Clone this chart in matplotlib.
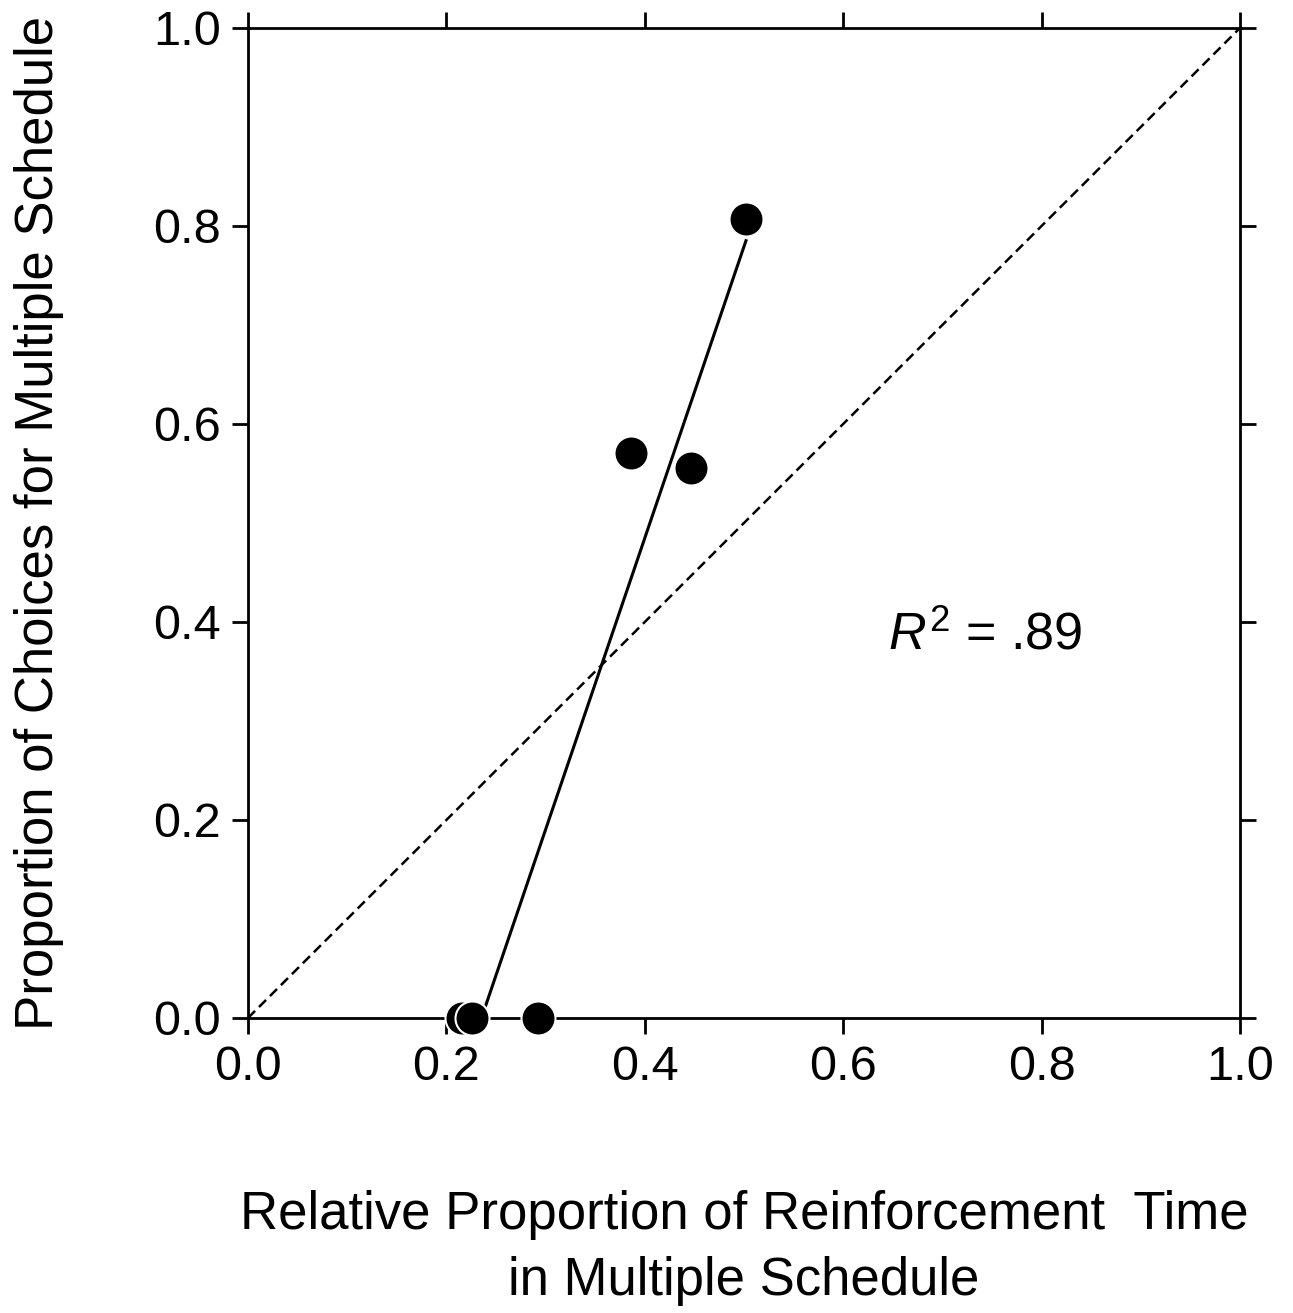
import numpy as np
from matplotlib import pyplot as plt

plt.rcParams['font.family'] = ['Liberation Sans', 'DejaVu Sans']
plt.rcParams['mathtext.fontset'] = 'custom'
plt.rcParams['mathtext.rm'] = 'Liberation Sans'
plt.rcParams['mathtext.it'] = 'Liberation Sans:italic'

# data
rel_time = [0.216, 0.226, 0.292, 0.386, 0.447, 0.502]
prop_choice = [0.0, 0.0, 0.0, 0.571, 0.556, 0.807]
ticks = [0.0, 0.2, 0.4, 0.6, 0.8, 1.0]
tick_labels = ["0.0", "0.2", "0.4", "0.6", "0.8", "1.0"]
r2_text = "$R^2$ = .89"

fig = plt.figure(figsize=(12.93, 13.13), dpi=100)
ax = fig.add_axes([0.1918, 0.2247, 0.7672, 0.754])

# unity line
ax.plot([0, 1], [0, 1], ls=(0, (4, 2.2)), color="black", lw=1.8, zorder=1)

# least squares fit
slope, icpt = np.polyfit(rel_time, prop_choice, 1)
x0 = -icpt / slope
x1 = max(rel_time)
ax.plot([x0, x1], [0, slope * x1 + icpt], color="black", lw=2.2, zorder=2)

ax.scatter(rel_time, prop_choice, s=600, color="black", edgecolors="white",
           linewidths=1.5, zorder=3, clip_on=False)

ax.text(0.645, 0.372, r2_text, fontsize=37.5)

ax.set_xlim(0, 1)
ax.set_ylim(0, 1)
ax.set_xticks(ticks)
ax.set_xticklabels(tick_labels)
ax.set_yticks(ticks)
ax.set_yticklabels(tick_labels)
ax.tick_params(direction="out", length=11.5, width=2, labelsize=35, pad=8,
               top=True, right=True)
for sp in ax.spines.values():
    sp.set_linewidth(2)

ax.set_xlabel("Relative Proportion of Reinforcement  Time\nin Multiple Schedule",
              fontsize=38, labelpad=72, linespacing=1.42)
ax.set_ylabel("Proportion of Choices for Multiple Schedule", fontsize=38,
              labelpad=64)

fig.savefig("out.png", dpi=100)
